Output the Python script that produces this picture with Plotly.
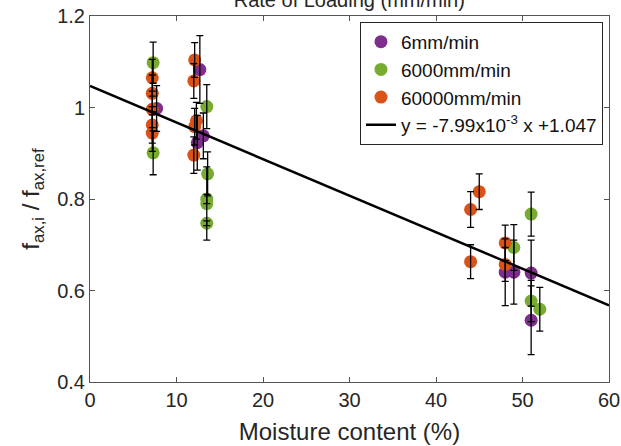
import plotly.graph_objects as go

# ---- data ----
purple_x = [7.7, 12.7, 13.1, 12.4, 48.0, 49.0, 51.0, 51.0]
purple_y = [0.998, 1.083, 0.938, 0.923, 0.640, 0.640, 0.638, 0.535]
purple_e = [0.050, 0.074, 0.050, 0.060, 0.073, 0.070, 0.072, 0.075]

green_x = [7.3, 7.3, 13.5, 13.6, 13.5, 13.5, 13.5, 49.0, 51.0, 51.0, 52.0]
green_y = [1.098, 0.901, 1.002, 0.855, 0.800, 0.790, 0.747, 0.694, 0.767, 0.577, 0.559]
green_e = [0.045, 0.048, 0.048, 0.048, 0.010, 0.080, 0.005, 0.050, 0.048, 0.045, 0.048]

orange_x = [7.2, 7.2, 7.2, 7.2, 7.2, 12.1, 12.0, 12.3, 12.1, 12.0, 44.0, 45.0, 44.0, 48.0, 48.0]
orange_y = [1.065, 1.031, 0.996, 0.962, 0.944, 1.104, 1.058, 0.971, 0.958, 0.896,
            0.777, 0.816, 0.663, 0.704, 0.657]
orange_e = [0.040, 0.040, 0.040, 0.040, 0.040, 0.038, 0.038, 0.040, 0.040, 0.040,
            0.039, 0.039, 0.037, 0.039, 0.037]

series_names = ["6mm/min", "6000mm/min", "60000mm/min"]
series_colors = ["#7E2F8E", "#77AC30", "#D95319"]

slope = -7.99e-3
intercept = 1.047
fit_x = [0, 60]
fit_label = "y = -7.99x10<sup>-3</sup> x +1.047"

x_ticks = [0, 10, 20, 30, 40, 50, 60]
y_ticks = [0.4, 0.6, 0.8, 1.0, 1.2]
y_tick_labels = ["0.4", "0.6", "0.8", "1", "1.2"]

FONT = "Liberation Sans, Arial, Helvetica, sans-serif"

fig = go.Figure()

all_series = [(purple_x, purple_y, purple_e), (green_x, green_y, green_e), (orange_x, orange_y, orange_e)]

for (xs, ys, es), name, col in zip(all_series, series_names, series_colors):
    fig.add_trace(go.Scatter(
        x=xs, y=ys, mode="markers", name=name,
        marker=dict(color=col, size=13, line=dict(width=0)),
    ))

# error bars on top of markers
for (xs, ys, es) in all_series:
    fig.add_trace(go.Scatter(
        x=xs, y=ys, mode="markers", showlegend=False, hoverinfo="skip",
        marker=dict(size=1, opacity=0),
        error_y=dict(type="data", array=es, visible=True, color="black",
                     thickness=1.3, width=3.5),
    ))

fig.add_trace(go.Scatter(
    x=fit_x, y=[slope * v + intercept for v in fit_x], mode="lines",
    name=fit_label, line=dict(color="black", width=2.5),
))

axis_common = dict(
    showgrid=False, zeroline=False, showline=True, linecolor="#555555", linewidth=1,
    mirror="ticks", ticks="inside", ticklen=5, tickcolor="#555555", automargin=False,
    tickfont=dict(family=FONT, size=20, color="#262626"),
)

fig.update_layout(
    width=621, height=446,
    margin=dict(l=90, r=12, t=16, b=64),
    paper_bgcolor="white", plot_bgcolor="white",
    font=dict(family=FONT, color="#262626"),
    title=dict(text="Rate of Loading (mm/min)", x=0.5625, xanchor="center",
               y=1.0, yanchor="middle", yref="container", automargin=False,
               font=dict(family=FONT, size=20, color="#262626")),
    xaxis=dict(range=[0, 60], tickvals=x_ticks,
               title=dict(text="Moisture content (%)", font=dict(family=FONT, size=24, color="#262626"), standoff=13),
               **axis_common),
    yaxis=dict(range=[0.4, 1.2], tickvals=y_ticks, ticktext=y_tick_labels,
               title=dict(text="f<sub>ax,i</sub> / f<sub>ax,ref</sub>", font=dict(family=FONT, size=24, color="#262626"), standoff=10),
               **axis_common),
    legend=dict(x=0.9884, xanchor="right", y=0.984, yanchor="top",
                bgcolor="white", bordercolor="#262626", borderwidth=1,
                font=dict(family=FONT, size=19, color="#111111"),
                itemwidth=30, tracegroupgap=0),
    showlegend=True,
)

fig.write_html("out.html", config={"displayModeBar": False},
               post_script="document.body.style.margin='0px';")
